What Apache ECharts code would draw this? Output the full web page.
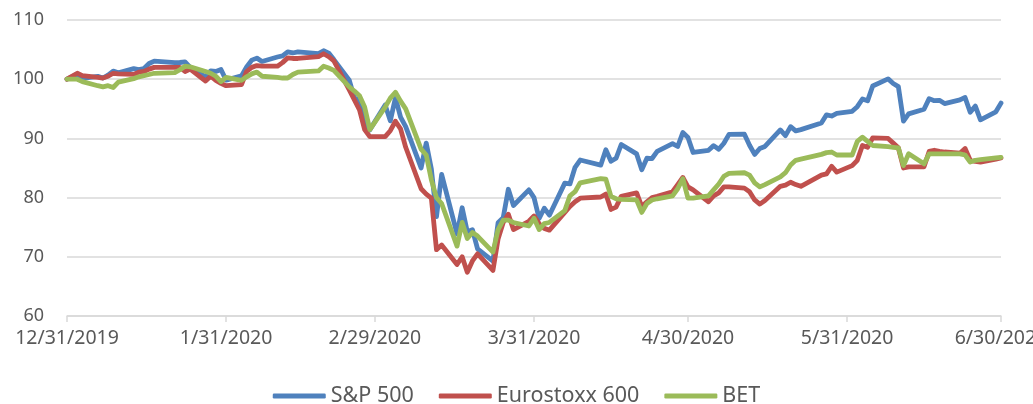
<!DOCTYPE html>
<html>
<head>
<meta charset="utf-8">
<script src="https://cdn.jsdelivr.net/npm/echarts@6/dist/echarts.min.js"></script>
<style>
  html, body { margin: 0; padding: 0; background: #fff; }
  #main { width: 1033px; height: 404px; }
</style>
</head>
<body>
<div id="main"></div>
<script>
// trading days, 12/31/2019 .. 6/30/2020
var dates = [
  '2019-12-31',
  '2020-01-02','2020-01-03','2020-01-06','2020-01-07','2020-01-08','2020-01-09','2020-01-10',
  '2020-01-13','2020-01-14','2020-01-15','2020-01-16','2020-01-17','2020-01-21','2020-01-22',
  '2020-01-23','2020-01-24','2020-01-27','2020-01-28','2020-01-29','2020-01-30','2020-01-31',
  '2020-02-03','2020-02-04','2020-02-05','2020-02-06','2020-02-07','2020-02-10','2020-02-11',
  '2020-02-12','2020-02-13','2020-02-14','2020-02-18','2020-02-19','2020-02-20','2020-02-21',
  '2020-02-24','2020-02-25','2020-02-26','2020-02-27','2020-02-28',
  '2020-03-02','2020-03-03','2020-03-04','2020-03-05','2020-03-06','2020-03-09','2020-03-10',
  '2020-03-11','2020-03-12','2020-03-13','2020-03-16','2020-03-17','2020-03-18','2020-03-19',
  '2020-03-20','2020-03-23','2020-03-24','2020-03-25','2020-03-26','2020-03-27','2020-03-30',
  '2020-03-31',
  '2020-04-01','2020-04-02','2020-04-03','2020-04-06','2020-04-07','2020-04-08','2020-04-09',
  '2020-04-13','2020-04-14','2020-04-15','2020-04-16','2020-04-17','2020-04-20','2020-04-21',
  '2020-04-22','2020-04-23','2020-04-24','2020-04-27','2020-04-28','2020-04-29','2020-04-30',
  '2020-05-01','2020-05-04','2020-05-05','2020-05-06','2020-05-07','2020-05-08','2020-05-11',
  '2020-05-12','2020-05-13','2020-05-14','2020-05-15','2020-05-18','2020-05-19','2020-05-20',
  '2020-05-21','2020-05-22','2020-05-26','2020-05-27','2020-05-28','2020-05-29',
  '2020-06-01','2020-06-02','2020-06-03','2020-06-04','2020-06-05','2020-06-08','2020-06-09',
  '2020-06-10','2020-06-11','2020-06-12','2020-06-15','2020-06-16','2020-06-17','2020-06-18',
  '2020-06-19','2020-06-22','2020-06-23','2020-06-24','2020-06-25','2020-06-26','2020-06-29',
  '2020-06-30'
];

var sp500 = [
  100,
  100.84,100.13,100.48,100.20,100.69,101.36,101.07,
  101.78,101.62,101.81,102.66,103.06,102.79,102.82,
  102.93,102.00,100.40,101.41,101.32,101.64,99.84,
  100.56,102.07,103.22,103.56,103.00,103.75,103.93,
  104.60,104.43,104.62,104.32,104.81,104.41,103.31,
  99.85,96.83,96.46,92.20,91.44,
  95.65,92.96,96.88,93.60,92.00,85.01,89.21,
  84.85,76.78,83.91,73.86,78.28,74.23,74.58,
  71.34,69.25,75.75,76.62,81.41,78.66,81.30,
  80.00,
  76.47,78.21,77.03,82.45,82.31,85.12,86.35,
  85.48,88.09,86.15,86.65,88.97,87.38,84.70,
  86.65,86.60,87.80,89.10,88.63,90.98,90.15,
  87.62,87.99,88.78,88.16,89.18,90.68,90.70,
  88.84,87.29,88.29,88.64,91.43,90.47,91.98,
  91.26,91.48,92.60,93.98,93.78,94.23,
  94.58,95.36,96.66,96.34,98.86,100.05,99.27,
  98.74,92.92,94.14,94.92,96.72,96.37,96.43,
  95.88,96.50,96.92,94.41,95.45,93.14,94.50,
  95.96
];

var eurostoxx = [
  100,
  101.0,100.6,100.3,100.2,100.5,101.0,100.9,
  100.8,101.2,101.3,101.7,102.0,102.0,102.0,
  101.3,101.7,99.7,100.5,99.8,99.3,98.9,
  99.1,101.3,102.0,102.3,102.2,102.2,102.8,
  103.6,103.5,103.5,103.8,104.3,103.8,103.1,
  98.2,96.5,94.8,91.5,90.3,
  90.3,91.3,92.9,91.6,88.5,81.5,80.6,
  79.9,71.2,72.0,68.7,70.0,67.4,69.3,
  70.5,67.7,73.0,75.8,77.2,74.6,76.0,
  76.9,
  75.6,74.8,74.5,77.5,78.5,79.3,79.9,
  80.1,80.6,78.0,78.4,80.2,80.8,78.5,
  79.3,80.0,80.2,81.0,82.2,83.4,81.8,
  81.3,79.3,80.3,80.8,81.8,81.8,81.6,
  81.0,79.6,78.9,79.5,81.9,82.1,82.6,
  82.2,81.9,83.8,84.0,85.3,84.3,
  85.4,86.3,88.8,88.5,90.1,90.0,89.2,
  88.4,85.0,85.2,85.2,87.8,88.0,87.8,
  87.7,87.5,88.3,86.3,86.1,86.0,86.5,
  86.7
];

var bet = [
  100,
  100.0,99.6,98.9,98.7,98.9,98.6,99.5,
  100.1,100.4,100.6,100.8,101.0,101.1,101.6,
  102.2,102.1,101.3,101.0,100.5,99.6,100.3,
  99.8,100.4,100.9,101.2,100.5,100.3,100.2,
  100.2,100.8,101.2,101.4,102.2,101.9,101.5,
  98.7,98.0,97.2,95.3,91.5,
  95.3,96.8,97.8,96.3,95.0,88.2,87.2,
  83.0,80.0,79.0,71.8,75.8,73.1,74.1,
  73.5,70.8,74.6,76.2,76.2,75.8,75.2,
  76.5,
  74.6,75.6,75.8,77.8,80.3,81.0,82.5,
  83.2,83.1,80.2,79.8,79.7,79.6,77.5,
  79.0,79.6,79.8,80.3,81.5,83.2,79.9,
  79.9,80.3,81.3,82.3,83.6,84.1,84.2,
  83.8,82.5,81.8,82.2,83.5,84.2,85.5,
  86.3,86.5,87.3,87.6,87.7,87.2,
  87.2,89.5,90.2,89.5,88.8,88.6,88.5,
  88.4,85.4,87.4,85.7,87.4,87.4,87.4,
  87.4,87.4,87.2,86.0,86.3,86.4,86.7,
  86.8
];

// month-end tick labels on the date axis
var tickDates = ['2019-12-31','2020-01-31','2020-02-29','2020-03-31','2020-04-30','2020-05-31','2020-06-30'];

function toTime(s) {
  var p = s.split('-');
  return new Date(+p[0], +p[1] - 1, +p[2]).getTime();
}
function pairs(vals) {
  return dates.map(function (d, i) { return [toTime(d), vals[i]]; });
}
var tickTimes = tickDates.map(toTime);

var font = '"Noto Sans", sans-serif';

var lineStyle = function (c) {
  return { width: 4.8, color: c, cap: 'round', join: 'round' };
};

var option = {
  backgroundColor: '#fff',
  animation: false,
  grid: { left: 67, right: 32, top: 20, bottom: 88, outerBoundsMode: 'none', containLabel: false },
  legend: {
    left: 'center',
    top: 380,
    icon: 'roundRect',
    itemWidth: 53,
    itemHeight: 5,
    itemGap: 25,
    textStyle: { color: '#595959', fontSize: 21.5, fontFamily: font },
    data: ['S&P 500', 'Eurostoxx 600', 'BET']
  },
  xAxis: {
    type: 'value',
    min: tickTimes[0],
    max: tickTimes[tickTimes.length - 1],
    axisLine: { lineStyle: { color: '#D9D9D9', width: 1.5 } },
    axisTick: { show: true, length: 6, customValues: tickTimes, lineStyle: { color: '#D9D9D9', width: 1.5 } },
    axisLabel: {
      customValues: tickTimes,
      margin: 12,
      color: '#595959',
      fontSize: 19.5,
      fontFamily: font,
      hideOverlap: false,
      formatter: function (v) {
        var d = new Date(v);
        return (d.getMonth() + 1) + '/' + d.getDate() + '/' + d.getFullYear();
      }
    },
    splitLine: { show: false }
  },
  yAxis: {
    type: 'value',
    min: 60,
    max: 110,
    interval: 10,
    axisLine: { show: false },
    axisTick: { show: false },
    axisLabel: { margin: 23, color: '#595959', fontSize: 18, fontFamily: font },
    splitLine: { lineStyle: { color: '#D9D9D9', width: 1.5 } }
  },
  series: [
    { name: 'S&P 500', type: 'line', showSymbol: false, color: '#4F81BD', lineStyle: lineStyle('#4F81BD'), data: pairs(sp500) },
    { name: 'Eurostoxx 600', type: 'line', showSymbol: false, color: '#C0504D', lineStyle: lineStyle('#C0504D'), data: pairs(eurostoxx) },
    { name: 'BET', type: 'line', showSymbol: false, color: '#9BBB59', lineStyle: lineStyle('#9BBB59'), data: pairs(bet) }
  ]
};

var myChart = echarts.init(document.getElementById('main'));
myChart.setOption(option);
</script>
</body>
</html>
